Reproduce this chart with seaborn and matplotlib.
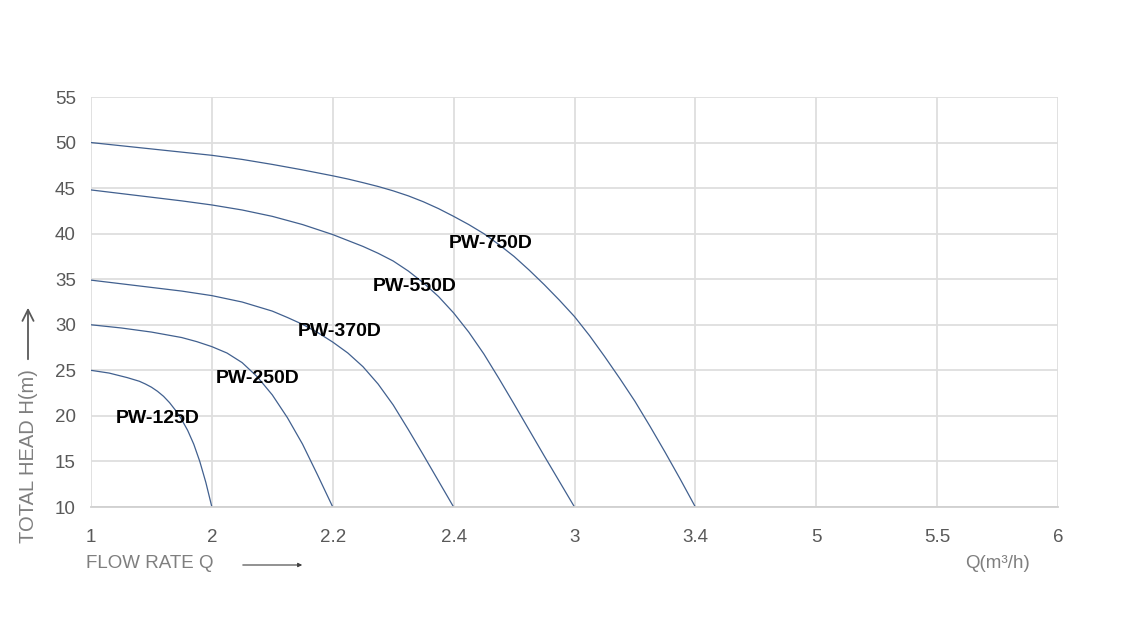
import numpy as np
import pandas as pd
import matplotlib
matplotlib.use("Agg")
import matplotlib.pyplot as plt
import seaborn as sns

# x axis categories (flow rate Q, m3/h), equally spaced on the chart
q_labels = ["1", "2", "2.2", "2.4", "3", "3.4", "5", "5.5", "6"]
head_ticks = [10, 15, 20, 25, 30, 35, 40, 45, 50, 55]

# curves: position along category axis -> head (m)
pw125_pos = [0, 0.15, 0.3, 0.4, 0.45, 0.5, 0.55, 0.6, 0.65, 0.7, 0.75,
             0.8, 0.85, 0.9, 0.95, 1.0]
pw125_head = [25, 24.7, 24.2, 23.8, 23.5, 23.15, 22.7, 22.15, 21.45, 20.6, 19.6,
              18.4, 16.9, 15.0, 12.7, 10]

pw250_pos = [0, 0.25, 0.5, 0.75, 0.875, 1.0, 1.125, 1.25, 1.375, 1.5, 1.625,
             1.75, 1.875, 2.0]
pw250_head = [30, 29.65, 29.2, 28.6, 28.15, 27.6, 26.9, 25.85, 24.3, 22.3, 19.8,
              16.9, 13.5, 10]

pw370_pos = [0, 0.25, 0.5, 0.75, 1.0, 1.25, 1.5, 1.625, 1.75, 1.875, 2.0,
             2.125, 2.25, 2.375, 2.5, 2.625, 2.75, 2.875, 3.0]
pw370_head = [34.9, 34.5, 34.1, 33.7, 33.2, 32.5, 31.5, 30.8, 30.05, 29.15, 28.1,
              26.9, 25.4, 23.5, 21.2, 18.5, 15.7, 12.85, 10]

pw550_pos = [0, 0.25, 0.5, 0.75, 1.0, 1.25, 1.5, 1.75, 2.0, 2.25, 2.375, 2.5,
             2.625, 2.75, 2.875, 3.0, 3.125, 3.25, 3.375, 3.5, 3.75, 4.0]
pw550_head = [44.8, 44.4, 44.0, 43.6, 43.15, 42.6, 41.9, 41.0, 39.9, 38.6, 37.85, 37.0,
              35.9, 34.6, 33.1, 31.3, 29.2, 26.8, 24.1, 21.3, 15.6, 10]

pw750_pos = [0, 0.25, 0.5, 0.75, 1.0, 1.25, 1.5, 1.75, 2.0, 2.125, 2.25, 2.375,
             2.5, 2.625, 2.75, 2.875, 3.0, 3.125, 3.25, 3.375, 3.5, 3.625,
             3.75, 3.875, 4.0, 4.125, 4.25, 4.375, 4.5, 4.625, 4.75, 4.875, 5.0]
pw750_head = [50, 49.65, 49.3, 48.95, 48.6, 48.15, 47.6, 47.0, 46.35, 46.0, 45.6, 45.18,
              44.7, 44.15, 43.5, 42.75, 41.9, 41.0, 40.0, 38.8, 37.5, 36.0,
              34.4, 32.7, 30.9, 28.8, 26.5, 24.1, 21.6, 18.85, 16.0, 13.05, 10]

models = ["PW-125D", "PW-250D", "PW-370D", "PW-550D", "PW-750D"]
label_pos = [(0.55, 19.7), (1.38, 24.05), (2.06, 29.3), (2.68, 34.2), (3.31, 38.9)]

curves = {
    "PW-125D": (pw125_pos, pw125_head),
    "PW-250D": (pw250_pos, pw250_head),
    "PW-370D": (pw370_pos, pw370_head),
    "PW-550D": (pw550_pos, pw550_head),
    "PW-750D": (pw750_pos, pw750_head),
}
rows = []
for name in models:
    for p, h in zip(*curves[name]):
        rows.append({"model": name, "q": p, "head": h})
df = pd.DataFrame(rows)

sns.set_style("white")
plt.rcParams["font.family"] = ["Liberation Sans", "DejaVu Sans"]

fig = plt.figure(figsize=(11.35, 6.17), dpi=100)
ax = fig.add_axes([91 / 1135, 1 - 507 / 617, (1058 - 91) / 1135, (507 - 97) / 617])

line_color = "#41608F"
sns.lineplot(data=df, x="q", y="head", hue="model", palette=[line_color] * 5,
             sort=False, estimator=None, legend=False, linewidth=0.9, ax=ax)

ax.set_xlim(0, len(q_labels) - 1)
ax.set_ylim(10, 55)
ax.set_xticks(range(len(q_labels)))
ax.set_xticklabels(q_labels)
ax.set_yticks(head_ticks)
ax.set_xlabel("")
ax.set_ylabel("")

grid_col = "#dedede"
ax.grid(True, color=grid_col, linewidth=1.3)
ax.set_axisbelow(True)
for s in ["top", "right", "left"]:
    ax.spines[s].set_visible(False)
ax.spines["bottom"].set_color("#d0d0d0")
ax.spines["bottom"].set_linewidth(1.3)

ax.tick_params(axis="x", length=5, width=1.2, color="#d0d0d0", pad=11,
               labelsize=13.5, labelcolor="#595959")
ax.tick_params(axis="y", length=0, pad=11, labelsize=13.5, labelcolor="#595959")

for name, (lx, ly) in zip(models, label_pos):
    ax.text(lx, ly, name, ha="center", va="center", fontsize=14,
            fontweight="bold", color="black")

# axis titles with arrows
fig.text(86 / 1135, 1 - 564 / 617, "FLOW RATE Q", ha="left", va="center",
         fontsize=13.5, color="#7f7f7f")
fig.text(965 / 1135, 1 - 564 / 617, "Q(m³/h)", ha="left", va="center",
         fontsize=13.5, color="#7f7f7f")
fig.text(29 / 1135, 1 - 456 / 617, "TOTAL HEAD H(m)", ha="center", va="center",
         rotation=90, fontsize=14.5, color="#7f7f7f")

ax.annotate("", xy=(305 / 1135, 1 - 565 / 617), xytext=(240 / 1135, 1 - 565 / 617),
            xycoords="figure fraction", textcoords="figure fraction",
            arrowprops=dict(arrowstyle="-|>", color="#404040", lw=0.8,
                            mutation_scale=6))
ax.annotate("", xy=(28 / 1135, 1 - 305 / 617), xytext=(28 / 1135, 1 - 362 / 617),
            xycoords="figure fraction", textcoords="figure fraction",
            arrowprops=dict(arrowstyle="->", color="#595959", lw=1.3,
                            mutation_scale=20))

fig.savefig("out.png", dpi=100)
